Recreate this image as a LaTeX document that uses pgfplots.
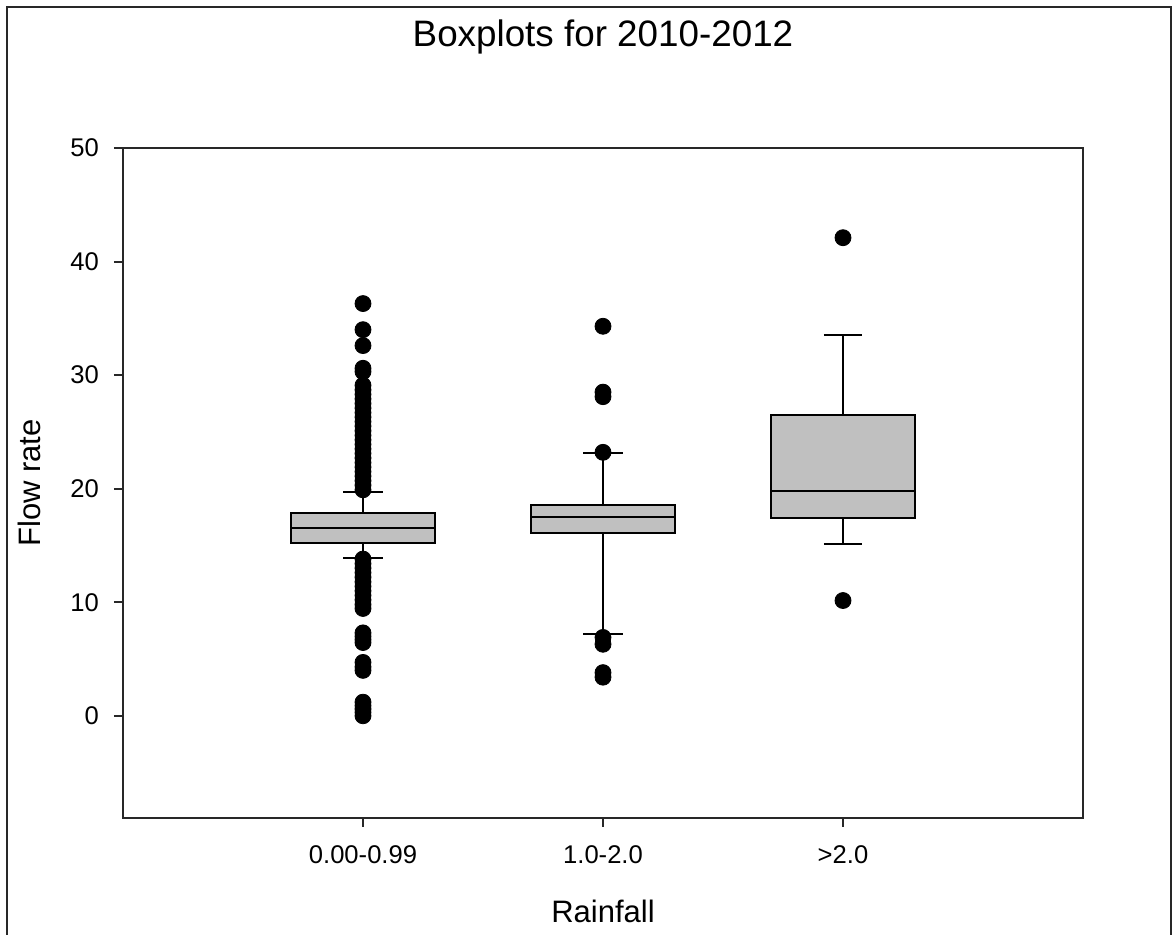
\documentclass[border=0pt]{standalone}
\usepackage{pgfplots}
\pgfplotsset{compat=1.18}
\usepgfplotslibrary{statistics}
\usepackage{fontspec}
\setmainfont{Liberation Sans}
\definecolor{boxgray}{RGB}{192,192,192}
\definecolor{axgray}{RGB}{40,40,40}
\begin{document}
\begin{tikzpicture}
\useasboundingbox (-61.5pt,-58.5pt) rectangle (525pt,409pt);
\draw[line width=1.2pt, axgray] (-58pt,-70pt) -- (-58pt,405.5pt) -- (524pt,405.5pt) -- (524pt,-70pt);
\begin{axis}[
  at={(0pt,0pt)}, anchor=south west,
  scale only axis, width=480pt, height=335pt,
  xmin=0, xmax=4, ymin=-9, ymax=50,
  boxplot/draw direction=y,
  xtick={1,2,3}, xticklabels={0.00-0.99,1.0-2.0,>2.0},
  ytick={0,10,20,30,40,50},
  tick pos=left, tick align=outside,
  major tick length=4.5pt,
  axis line style={line width=1pt, axgray},
  every tick/.style={line width=1pt, axgray},
  /pgf/number format/assume math mode=true,
  tick label style={font=\fontsize{12.8pt}{14pt}\selectfont, text=black},
  yticklabel style={xshift=-4pt},
  xticklabel style={yshift=-6pt},
  title={Boxplots for 2010-2012},
  title style={at={(axis description cs:0.5,1)}, anchor=base, yshift=44.5pt, font=\fontsize{18.4pt}{20pt}\selectfont},
  xlabel={Rainfall},
  xlabel style={at={(axis description cs:0.5,0)}, anchor=base, yshift=-52.5pt, font=\fontsize{15.5pt}{17pt}\selectfont},
  ylabel={Flow rate},
  ylabel style={at={(axis description cs:0,0.5)}, anchor=center, yshift=47pt, font=\fontsize{15.5pt}{17pt}\selectfont},
  clip=false,
]
% outliers
\addplot[only marks, mark=*, mark size=4pt, black] coordinates {
(1,36.3) (1,34.0) (1,32.6) (1,30.6) (1,30.3) (1,29.1) (1,28.7) (1,28.3) (1,27.9) (1,27.5)
(1,27.1) (1,26.7) (1,26.3) (1,25.9) (1,25.5) (1,25.1) (1,24.7) (1,24.3) (1,23.9) (1,23.5)
(1,23.1) (1,22.7) (1,22.3) (1,21.9) (1,21.5) (1,21.1) (1,20.7) (1,20.3) (1,19.9)
(1,13.8) (1,13.4) (1,13.0) (1,12.6) (1,12.2) (1,11.8) (1,11.4) (1,11.0) (1,10.6) (1,10.2)
(1,9.8) (1,9.45) (1,7.3) (1,7.0) (1,6.7) (1,6.45) (1,4.7) (1,4.3) (1,4.0)
(1,1.2) (1,0.9) (1,0.6) (1,0.3) (1,0.0)
(2,34.3) (2,28.5) (2,28.1) (2,23.2) (2,6.9) (2,6.3) (2,3.8) (2,3.4)
(3,42.1) (3,10.15)
};
\addplot[boxplot prepared={draw position=1, lower whisker=13.88, lower quartile=15.23, median=16.5, upper quartile=17.87, upper whisker=19.69, box extend=0.6, whisker extend=0.165},
  draw=black, fill=boxgray, line width=1pt, solid] coordinates {};
\addplot[boxplot prepared={draw position=2, lower whisker=7.19, lower quartile=16.14, median=17.54, upper quartile=18.57, upper whisker=23.18, box extend=0.6, whisker extend=0.165},
  draw=black, fill=boxgray, line width=1pt, solid] coordinates {};
\addplot[boxplot prepared={draw position=3, lower whisker=15.11, lower quartile=17.38, median=19.8, upper quartile=26.5, upper whisker=33.54, box extend=0.6, whisker extend=0.16},
  draw=black, fill=boxgray, line width=1pt, solid] coordinates {};
\end{axis}
\end{tikzpicture}
\end{document}
